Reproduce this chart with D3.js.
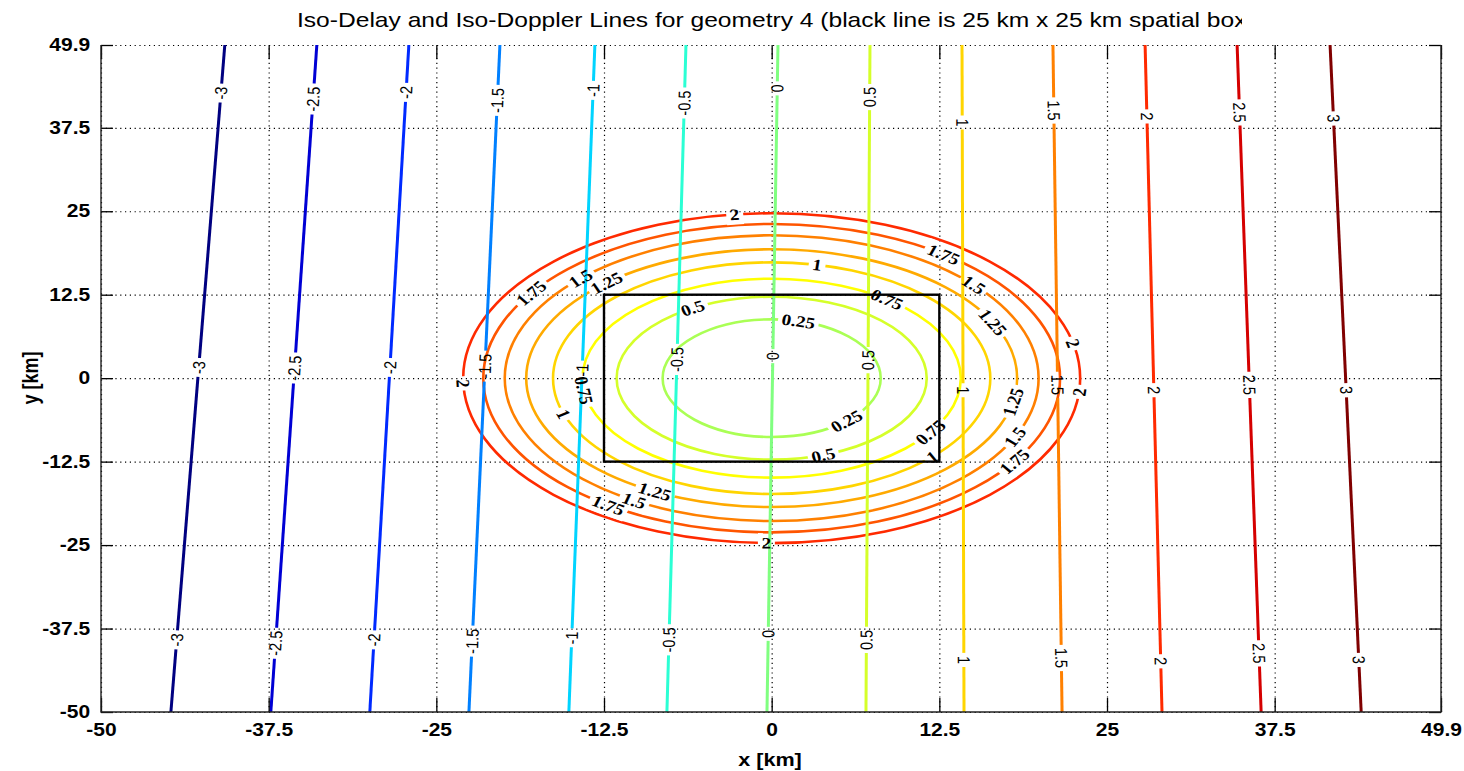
<!DOCTYPE html>
<html>
<head>
<meta charset="utf-8">
<script src="https://cdn.jsdelivr.net/npm/d3@7"></script>
<style>
  body { margin: 0; background: #fff; }
</style>
</head>
<body>
<div id="chart"></div>
<script>
// iso-doppler levels and where each line meets the top (y = 49.9) and bottom (y = -50) edges, km
const dopplerLevels = [-3, -2.5, -2, -1.5, -1, -0.5, 0, 0.5, 1, 1.5, 2, 2.5, 3];
const dopplerTopX = [-40.77, -33.91, -27.05, -20.26, -13.18, -6.39, 0.47, 7.33, 14.19, 20.97, 27.84, 34.70, 41.63];
const dopplerBottomX = [-44.79, -37.34, -29.96, -22.57, -15.12, -7.81, -0.35, 7.03, 14.34, 21.65, 29.10, 36.49, 43.95];
// y [km] of the inline labels on each doppler line
const dopplerLabelY = [
  [42.7, 1.6, -39.2], [41.8, 1.5, -39.7], [42.8, 1.6, -39.2], [41.6, 1.8, -39.4],
  [43.1, 1.2, -38.9], [41.2, 2.8, -39.2], [43.4, 3.3, -38.3], [42.1, 2.7, -39.2],
  [38.3, -1.8, -42.2], [40.1, -1.0, -41.9], [39.2, -1.8, -42.4], [39.8, -1.0, -41.2],
  [38.9, -1.8, -42.2]
];

// iso-delay levels: ellipses centred on the origin, semi-axes in km
const delayLevels = [0.25, 0.5, 0.75, 1, 1.25, 1.5, 1.75, 2];
const delayAxisX = [8.13, 11.56, 14.1, 16.3, 18.3, 19.9, 21.5, 23.0];
const delayAxisY = [8.81, 12.2, 14.9, 17.35, 19.3, 21.4, 23.1, 24.7];
// parametric angle (deg) of each inline label on the ellipses
const delayLabelAngles = [
  [75.8, -46.7],
  [120.6, -70.6],
  [52.4, -173, -33],
  [78, -162, -42.8],
  [132.3, 25.7, -10.6, -118.4],
  [135.7, 40.8, -24.3, -121],
  [146.5, 53.4, -32.7, -124.5],
  [96.9, 12.2, -4.8, -91, 181.8]
];

// 25 km x 25 km spatial box
const boxX = [-12.5, 12.5];
const boxY = [-12.5, 12.5];

const xTicks = [-50, -37.5, -25, -12.5, 0, 12.5, 25, 37.5, 49.9];
const yTicks = [-50, -37.5, -25, -12.5, 0, 12.5, 25, 37.5, 49.9];

const titleText = "Iso-Delay and Iso-Doppler Lines for geometry 4 (black line is 25 km x 25 km spatial box)";

const W = 1464, H = 771;
const SX = 1.2; // the text in the picture is stretched sideways

const svg = d3.select("#chart").append("svg")
  .attr("width", W)
  .attr("height", H)
  .style("font-family", "'Liberation Sans', Arial, sans-serif");
const defs = svg.append("defs");

const x = d3.scaleLinear().domain([-50, 49.9]).range([101, 1441]);
const y = d3.scaleLinear().domain([-50, 49.9]).range([712, 45]);

// matlab jet colormap
function jet(t) {
  const c = v => Math.round(255 * Math.max(0, Math.min(1, v)));
  return `rgb(${c(1.5 - Math.abs(4 * t - 3))},${c(1.5 - Math.abs(4 * t - 2))},${c(1.5 - Math.abs(4 * t - 1))})`;
}
const colorT = d3.scaleLinear().domain([-3, 3]).range([0, 1]);
const levelColor = v => jet(colorT(v));

function upright(phi) {
  if (phi > 90) phi -= 180;
  if (phi < -90) phi += 180;
  return phi;
}
// transform for a text at (px,py) whose baseline follows screen angle phi, with the sideways stretch
function textTransform(px, py, phi) {
  const r = phi * Math.PI / 180;
  const th = Math.atan2(Math.sin(r), Math.cos(r) / SX) * 180 / Math.PI;
  return `translate(${px},${py}) scale(${SX},1) rotate(${th})`;
}

// grid
const gridX = svg.append("g")
  .attr("transform", "translate(0,712)")
  .call(d3.axisBottom(x).tickValues(xTicks).tickSize(-667).tickFormat(""));
const gridY = svg.append("g")
  .attr("transform", "translate(101,0)")
  .call(d3.axisLeft(y).tickValues(yTicks).tickSize(-1340).tickFormat(""));
[gridX, gridY].forEach(g => {
  g.select(".domain").remove();
  g.selectAll("line").attr("stroke", "#000").attr("stroke-width", 1.2).attr("stroke-dasharray", "1.2,3.6");
});

// masks that cut gaps for the inline labels
function makeMask(id) {
  const m = defs.append("mask").attr("id", id)
    .attr("maskUnits", "userSpaceOnUse")
    .attr("x", 0).attr("y", 0).attr("width", W).attr("height", H);
  m.append("rect").attr("x", 0).attr("y", 0).attr("width", W).attr("height", H).attr("fill", "#fff");
  return m;
}
const delayMask = makeMask("delayGaps");
const dopplerMask = makeMask("dopplerGaps");

defs.append("clipPath").attr("id", "plotClip")
  .append("rect").attr("x", 101).attr("y", 45).attr("width", 1340).attr("height", 667);

const plot = svg.append("g").attr("clip-path", "url(#plotClip)");

// iso-delay ellipses
const delays = delayLevels.map((v, i) => ({ v, a: delayAxisX[i], b: delayAxisY[i], angles: delayLabelAngles[i] }));
plot.append("g").attr("mask", "url(#delayGaps)")
  .selectAll("ellipse")
  .data(delays)
  .join("ellipse")
  .attr("cx", x(0))
  .attr("cy", y(0))
  .attr("rx", d => x(d.a) - x(0))
  .attr("ry", d => y(0) - y(d.b))
  .attr("fill", "none")
  .attr("stroke", d => levelColor(d.v))
  .attr("stroke-width", 2.6);

// iso-doppler lines
const dopplers = dopplerLevels.map((v, i) => ({ v, top: dopplerTopX[i], bot: dopplerBottomX[i], labels: dopplerLabelY[i] }));
plot.append("g").attr("mask", "url(#dopplerGaps)")
  .selectAll("line")
  .data(dopplers)
  .join("line")
  .attr("x1", d => x(d.bot))
  .attr("y1", y(-50))
  .attr("x2", d => x(d.top))
  .attr("y2", y(49.9))
  .attr("stroke", d => levelColor(d.v))
  .attr("stroke-width", 3);

// spatial box
plot.append("rect")
  .attr("x", x(boxX[0]))
  .attr("y", y(boxY[1]))
  .attr("width", x(boxX[1]) - x(boxX[0]))
  .attr("height", y(boxY[0]) - y(boxY[1]))
  .attr("fill", "none")
  .attr("stroke", "#000")
  .attr("stroke-width", 2.4);

// inline labels
const labelLayer = svg.append("g");
function addLabel(mask, txt, px, py, phi, font, size, weight) {
  const tf = textTransform(px, py, phi);
  const t = labelLayer.append("text")
    .attr("transform", tf)
    .attr("text-anchor", "middle")
    .attr("dy", "0.35em")
    .attr("font-family", font)
    .attr("font-size", size)
    .attr("font-weight", weight)
    .attr("fill", "#000")
    .text(txt);
  const bb = t.node().getBBox();
  mask.append("rect")
    .attr("transform", tf)
    .attr("x", bb.x - 3)
    .attr("y", bb.y - 1)
    .attr("width", bb.width + 6)
    .attr("height", bb.height + 2)
    .attr("fill", "#000");
}

const kx = x(1) - x(0), ky = y(0) - y(1);
delays.forEach(d => {
  d.angles.forEach(deg => {
    const r = deg * Math.PI / 180;
    const px = x(d.a * Math.cos(r)), py = y(d.b * Math.sin(r));
    const phi = upright(Math.atan2(-d.b * Math.cos(r) * ky, -d.a * Math.sin(r) * kx) * 180 / Math.PI);
    addLabel(delayMask, String(d.v), px, py, phi, "'Liberation Serif', 'Times New Roman', serif", 16, "bold");
  });
});

dopplers.forEach(d => {
  const phi = upright(Math.atan2(y(49.9) - y(-50), x(d.top) - x(d.bot)) * 180 / Math.PI);
  d.labels.forEach(yk => {
    const f = (yk + 50) / 99.9;
    const xk = d.bot + (d.top - d.bot) * f;
    addLabel(dopplerMask, String(d.v), x(xk), y(yk), phi, "'Liberation Sans', Arial, sans-serif", 14.5, "normal");
  });
});

// axes: inward ticks on all four sides
const fmt = d => String(d);
const axB = svg.append("g").attr("transform", "translate(0,712)")
  .call(d3.axisBottom(x).tickValues(xTicks).tickSizeInner(-14).tickSizeOuter(0).tickPadding(12).tickFormat(fmt));
const axT = svg.append("g").attr("transform", "translate(0,45)")
  .call(d3.axisTop(x).tickValues(xTicks).tickSizeInner(-14).tickSizeOuter(0).tickFormat(""));
const axL = svg.append("g").attr("transform", "translate(101,0)")
  .call(d3.axisLeft(y).tickValues(yTicks).tickSizeInner(-12).tickSizeOuter(0).tickPadding(9).tickFormat(fmt));
const axR = svg.append("g").attr("transform", "translate(1441,0)")
  .call(d3.axisRight(y).tickValues(yTicks).tickSizeInner(-12).tickSizeOuter(0).tickFormat(""));
[axB, axT, axL, axR].forEach(g => {
  g.select(".domain").remove();
  g.selectAll("line").attr("stroke", "#000").attr("stroke-width", 1.3);
  g.selectAll("text")
    .attr("font-family", "'Liberation Sans', Arial, sans-serif")
    .attr("font-size", 17.5)
    .attr("font-weight", "bold")
    .attr("fill", "#000")
    .attr("transform", `scale(${SX},1)`);
});

// frame: left, bottom, right
svg.append("path")
  .attr("d", `M${x(-50)},${y(49.9)}V${y(-50)}H${x(49.9)}V${y(49.9)}`)
  .attr("fill", "none")
  .attr("stroke", "#222")
  .attr("stroke-width", 1.4);

// axis titles
svg.append("text")
  .attr("transform", textTransform(770, 760, 0))
  .attr("text-anchor", "middle")
  .attr("dy", "0.35em")
  .attr("font-size", 18)
  .attr("font-weight", "bold")
  .text("x [km]");
svg.append("text")
  .attr("transform", textTransform(30, 378, -90))
  .attr("text-anchor", "middle")
  .attr("dy", "0.35em")
  .attr("font-size", 18)
  .attr("font-weight", "bold")
  .text("y [km]");

// title, cut off at the right as in the original
defs.append("clipPath").attr("id", "titleClip")
  .append("rect").attr("x", 0).attr("y", 0).attr("width", 1242).attr("height", 40);
svg.append("g").attr("clip-path", "url(#titleClip)")
  .append("text")
  .attr("transform", `translate(297,20) scale(${SX},1)`)
  .attr("dy", "0.35em")
  .attr("font-size", 20.5)
  .text(titleText);
</script>
</body>
</html>
